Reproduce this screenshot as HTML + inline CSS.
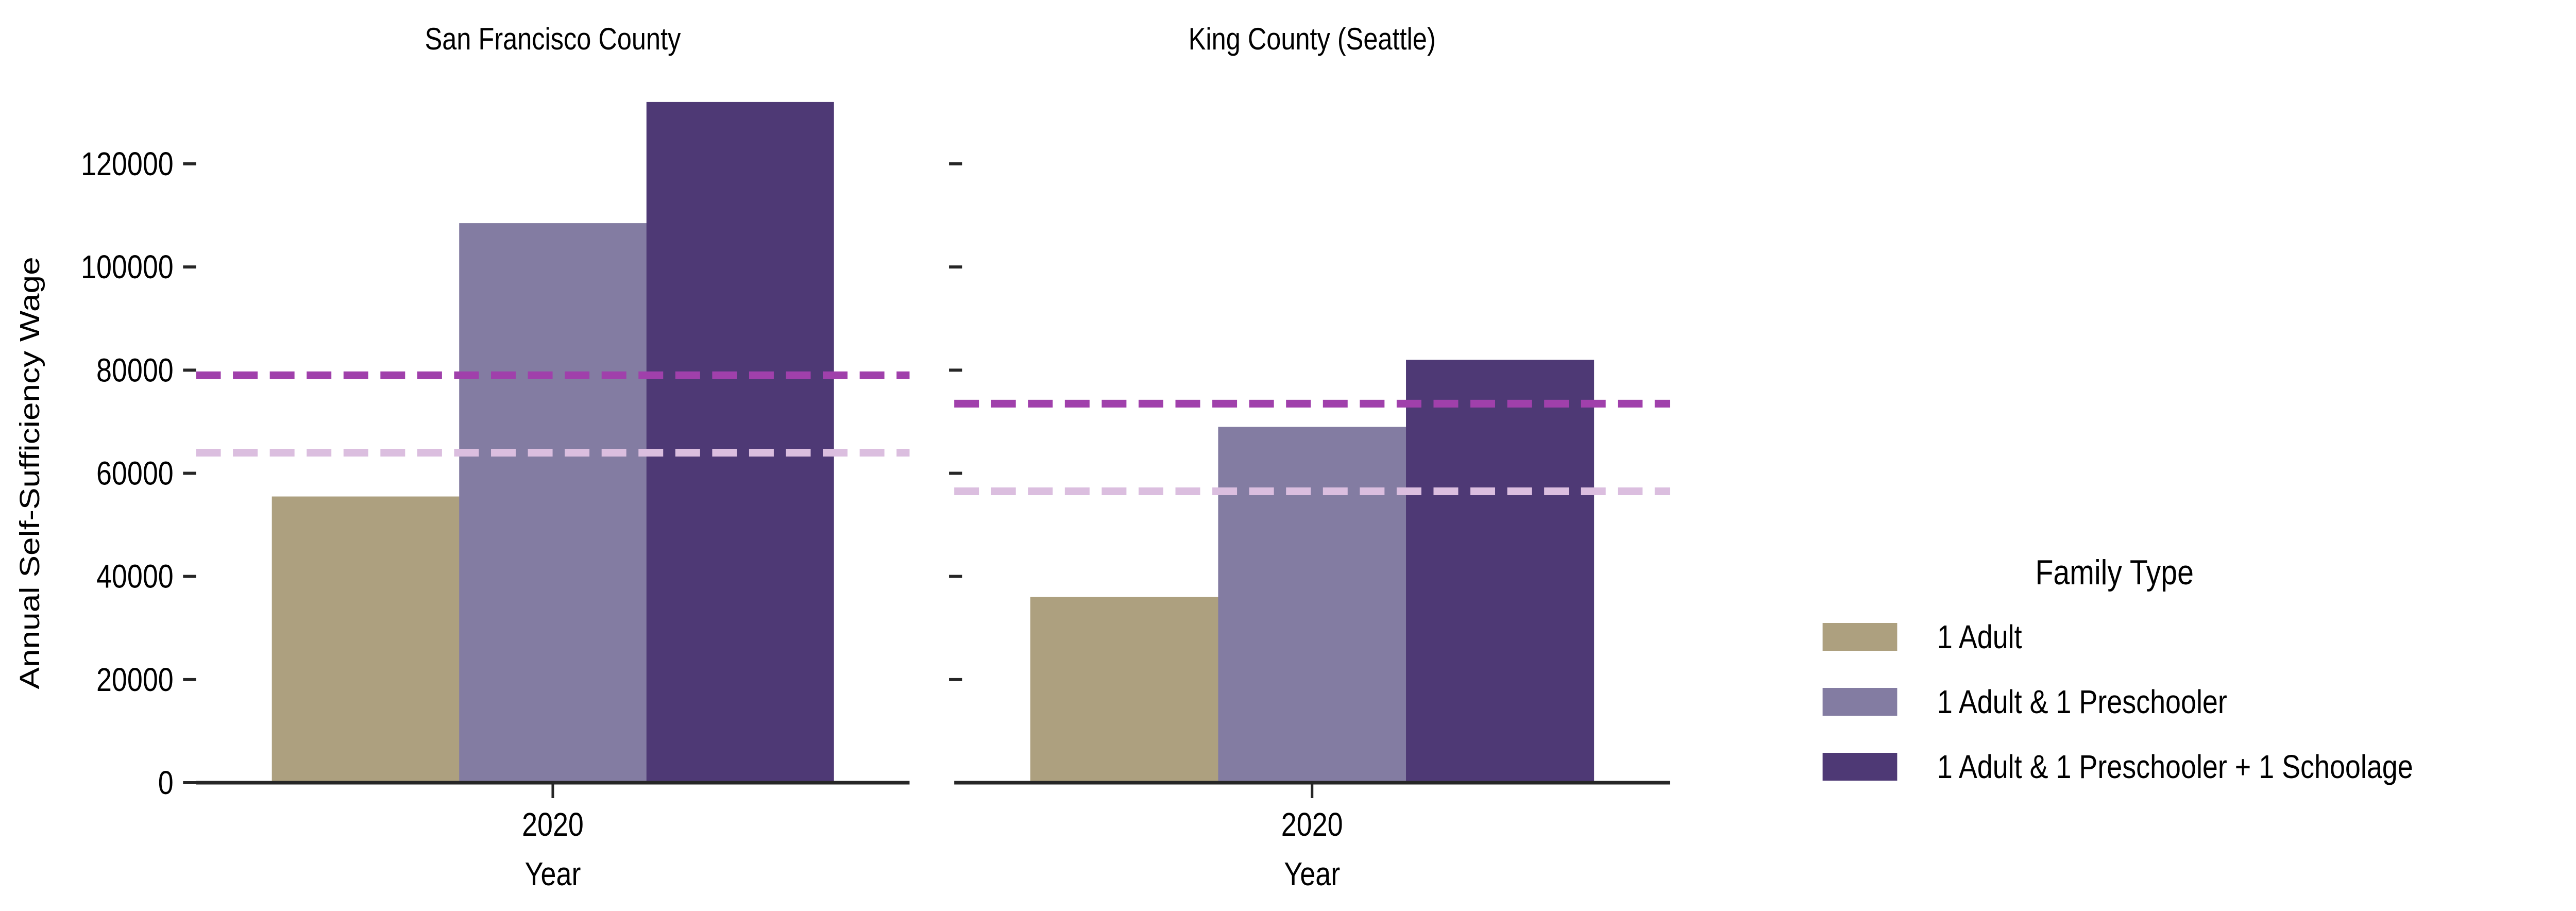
<!DOCTYPE html>
<html><head><meta charset="utf-8"><style>
html,body{margin:0;padding:0;background:#fff;overflow:hidden;width:100%;height:100%;}
svg{display:block;font-family:"Liberation Sans",sans-serif;width:100vw;height:100vh;}
</style></head><body>
<svg id="chart" viewBox="0 0 5939 1768" preserveAspectRatio="none" xmlns="http://www.w3.org/2000/svg"></svg>
<script>
const panels = ["San Francisco County", "King County (Seattle)"];
const familyTypes = ["1 Adult", "1 Adult & 1 Preschooler", "1 Adult & 1 Preschooler + 1 Schoolage"];
const sfValues = [55500, 108500, 132000];
const kingValues = [36000, 69000, 82000];
const sfLines = [79000, 64000];
const kingLines = [73500, 56500];
const yTicks = [0, 20000, 40000, 60000, 80000, 100000, 120000];
const xLabel = "2020";

const colors = ["#ada07f", "#837ca2", "#4e3975"];
const lineColors = ["#a040ab", "#dbbedf"];
const svg = document.getElementById('chart');
const NS = "http://www.w3.org/2000/svg";
const baseY = 1519, topY = 318;
function y(v){ return baseY - (v/120000)*(baseY-topY); }
function mk(tag, attrs, parent){ const e=document.createElementNS(NS,tag); for(const k in attrs) e.setAttribute(k,attrs[k]); (parent||svg).appendChild(e); return e; }

const panelX = [[452, 2097], [2200, 3850]];
const allValues = [sfValues, kingValues];
const allLines = [sfLines, kingLines];

panels.forEach((name, p) => {
  const [x0, x1] = panelX[p];
  const g = mk('g', {});
  
  
  const w = x1 - x0;
  const cx = x0 + w/2;
  const t = mk('text', {x: cx, y: 96, 'text-anchor':'middle', 'font-size':60, fill:'#000'}, g);
  t.textContent = name;
  
  
  const bw = w * 0.2625;
  const start = cx - bw*1.5;
  allValues[p].forEach((v, i) => {
    const r = mk('rect', {x: start + i*bw, y: y(v), width: bw+0.5, height: baseY - y(v), fill: colors[i]}, g);
    
    
  });
  allLines[p].forEach((v, i) => {
    const l = mk('line', {x1: x0, x2: x1, y1: y(v), y2: y(v), stroke: lineColors[i], 'stroke-width': 15, 'stroke-dasharray': '57 28'}, g);
    
    
  });
  const ax = mk('line', {x1: x0, x2: x1, y1: baseY, y2: baseY, stroke:'#262626', 'stroke-width': 7}, g);
  
  
  mk('line', {x1: cx, x2: cx, y1: baseY, y2: baseY+30, stroke:'#262626', 'stroke-width': 6}, g);
  const xl = mk('text', {x: cx, y: 1622, 'text-anchor':'middle', 'font-size':64, fill:'#000'}, g);
  xl.textContent = xLabel;
  
  
  const xt = mk('text', {x: cx, y: 1718, 'text-anchor':'middle', 'font-size':64, fill:'#000'}, g);
  xt.textContent = "Year";
  
  
  yTicks.forEach(v => {
    if (v === 0 && p === 1) return;
    const tx0 = p===0 ? x0-30 : x0-12;
    mk('line', {x1: tx0, x2: tx0+30, y1: y(v), y2: y(v), stroke:'#262626', 'stroke-width': 6}, g);
    if (p === 0) {
      const tl = mk('text', {x: x0-52, y: y(v)+22, 'text-anchor':'end', 'font-size':64, fill:'#000'}, g);
      tl.textContent = v;
      
      
    }
  });
});

const yt = mk('text', {x: 0, y: 0, 'text-anchor':'middle', 'font-size':64, fill:'#000', transform:'translate(90 918) rotate(-90)'});
yt.textContent = "Annual Self-Sufficiency Wage";



const lg = mk('g', {});


const ltitle = mk('text', {x: 4875, y: 1134, 'text-anchor':'middle', 'font-size':68, fill:'#000'}, lg);
ltitle.textContent = "Family Type";


familyTypes.forEach((f, i) => {
  const cy = 1236 + i*126;
  const sw = mk('rect', {x: 4202, y: cy-27, width: 172, height: 54, fill: colors[i]}, lg);
  
  
  const tx = mk('text', {x: 4466, y: cy+22, 'font-size':64, fill:'#000'}, lg);
  tx.textContent = f;
  
  
});
</script>
</body></html>
